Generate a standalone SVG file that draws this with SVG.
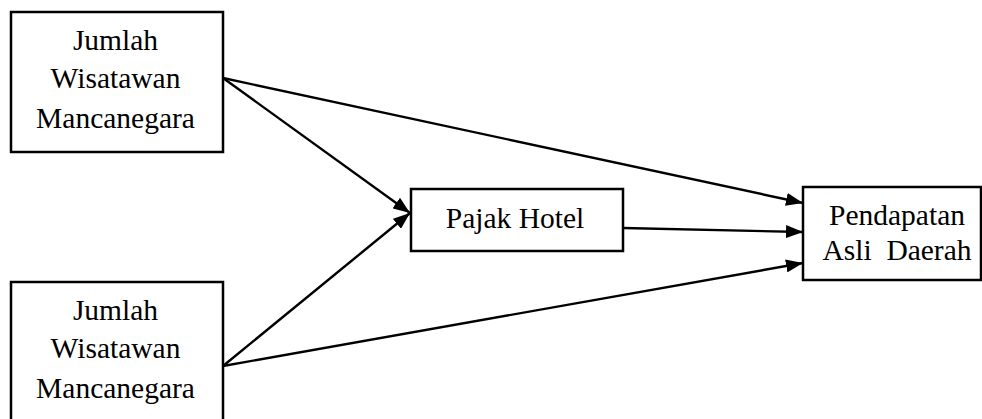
<svg xmlns="http://www.w3.org/2000/svg" width="982" height="419" viewBox="0 0 982 419">
  <style>
    .box { fill: #fff; stroke: #000; stroke-width: 2.5; }
    .lbl { font-family: "Liberation Serif", serif; font-size: 29.5px; fill: #000; text-anchor: middle; }
    .edge { stroke: #000; stroke-width: 2.4; fill: none; marker-end: url(#arrow); }
  </style>
  <defs>
    <marker id="arrow" viewBox="0 0 17 13" refX="17" refY="6.5" markerWidth="17" markerHeight="13" markerUnits="userSpaceOnUse" orient="auto">
      <path d="M0,0 L17,6.5 L0,13 Z" fill="#000"/>
    </marker>
  </defs>
  <rect width="982" height="419" fill="#fff"/>

  <g id="connectors">
    <line class="edge" x1="223" y1="78" x2="410" y2="213"/>
    <line class="edge" x1="223" y1="78" x2="803" y2="203"/>
    <line class="edge" x1="223" y1="366" x2="410" y2="213"/>
    <line class="edge" x1="223" y1="366" x2="803" y2="263"/>
    <line class="edge" x1="623" y1="228" x2="803" y2="232"/>
  </g>

  <g id="wisatawan-1">
    <rect class="box" x="11" y="12" width="212" height="140"/>
    <text class="lbl" x="115.5" y="50">Jumlah</text>
    <text class="lbl" x="115.5" y="88">Wisatawan</text>
    <text class="lbl" x="115.5" y="128">Mancanegara</text>
  </g>

  <g id="wisatawan-2">
    <rect class="box" x="11" y="282" width="212" height="150"/>
    <text class="lbl" x="115.5" y="320">Jumlah</text>
    <text class="lbl" x="115.5" y="358">Wisatawan</text>
    <text class="lbl" x="115.5" y="398">Mancanegara</text>
  </g>

  <g id="pajak-hotel">
    <rect class="box" x="411" y="189" width="212" height="62"/>
    <text class="lbl" x="515" y="228">Pajak Hotel</text>
  </g>

  <g id="pad">
    <rect class="box" x="803" y="187" width="178" height="93"/>
    <text class="lbl" x="897" y="225" xml:space="preserve">Pendapatan</text>
    <text class="lbl" x="897" y="260" xml:space="preserve">Asli  Daerah</text>
  </g>
</svg>
